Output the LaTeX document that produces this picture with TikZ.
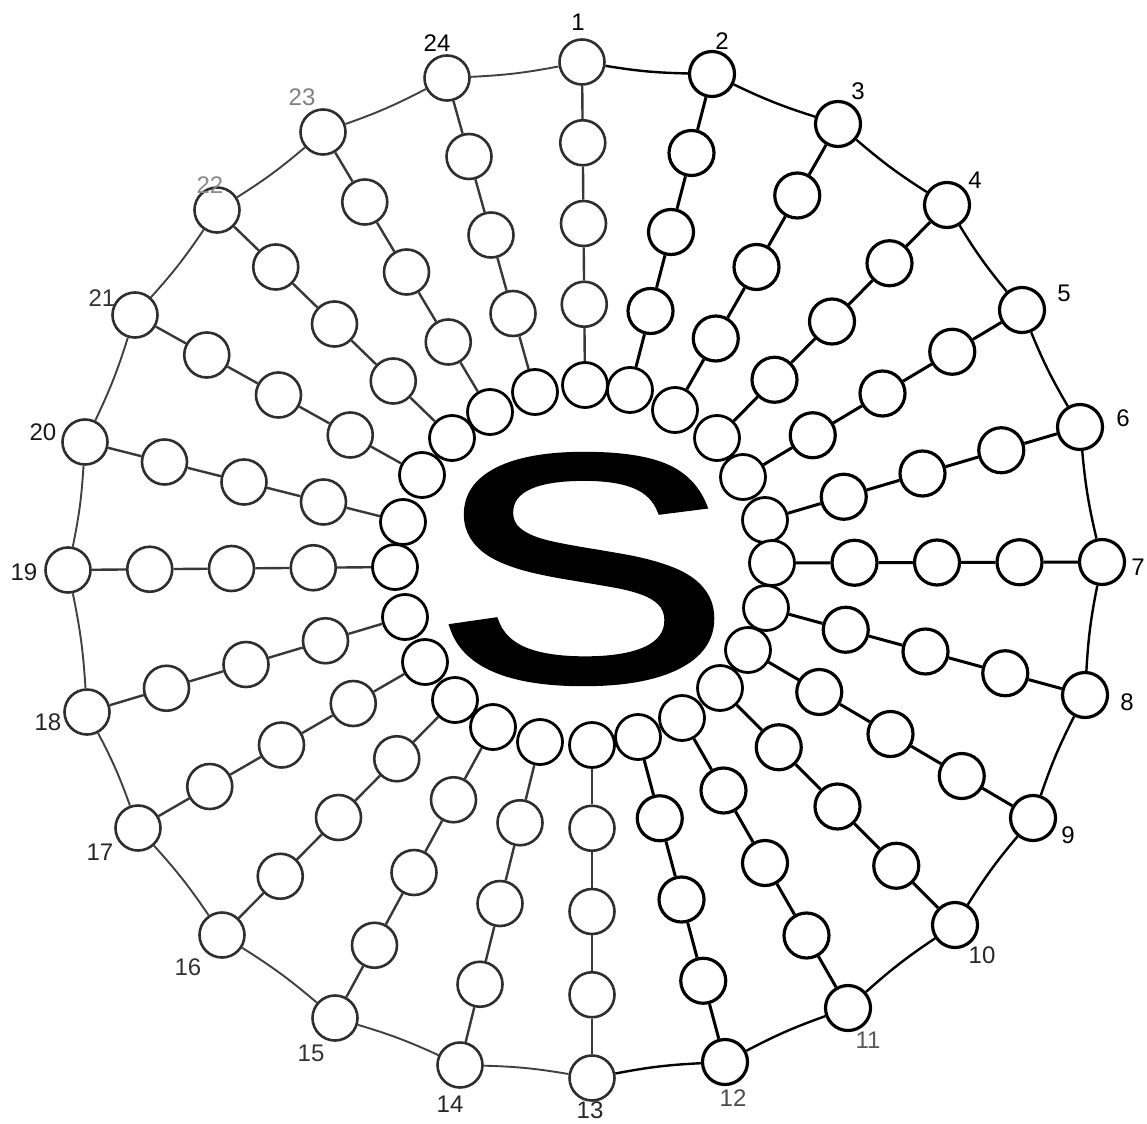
\documentclass[tikz,border=0pt]{standalone}
\usepackage{fontspec}
\setmainfont{Liberation Sans}
\newfontfamily\labfont{Liberation Sans}
\newfontfamily\Sfont[FakeBold=2]{Liberation Sans}
\usetikzlibrary{calc}
\begin{document}
\begin{tikzpicture}[x=1pt,y=-1pt,
  ballD/.style={circle,draw=black,fill=white,line width=3.2pt,minimum size=45pt,inner sep=0pt},
  ballL/.style={circle,draw=black!82,fill=white,line width=2.6pt,minimum size=45pt,inner sep=0pt},
  ballI/.style={circle,draw=black,fill=white,line width=2.8pt,minimum size=45pt,inner sep=0pt},
  linkD/.style={draw=black,line width=3pt},
  linkL/.style={draw=black!78,line width=2.4pt},
  ringD/.style={draw=black,line width=2.4pt},
  ringL/.style={draw=black!75,line width=1.9pt},
  lab/.style={font=\labfont\fontsize{24}{24}\selectfont,inner sep=0pt},
  bigS/.style={inner sep=0pt,font=\Sfont\fontsize{322}{322}\selectfont}
  ]
\useasboundingbox[fill=white] (0,0) rectangle (1147,1123);

\foreach \i/\ox/\oy/\ix/\iy/\s in {
  1/582/62/585/385/L, 2/712/74/630/390/D, 3/838/124/675/410/D,
  4/947/205/717/438/D, 5/1022/310/743/477/D, 6/1080/427/765/520/D,
  7/1102/562/772/563/D, 8/1085/695/766/608/D, 9/1033/818/748/650/D,
  10/955/925/720/688/D, 11/848/1008/682/718/D, 12/725/1062/638/737/D,
  13/592/1078/592/745/L, 14/460/1065/540/742/L, 15/335/1018/493/727/L,
  16/222/935/455/700/L, 17/138/828/425/662/L, 18/87/712/405/617/L,
  19/68/570/395/567/L, 20/85/442/403/522/L, 21/135/315/422/475/L,
  22/217/210/452/438/L, 23/323/132/490/412/L, 24/447/78/535/392/L} {
  \node[ball\s] (o\i) at (\ox,\oy) {};
  \node[ball\s] (a\i) at ($(\ox,\oy)!0.25!(\ix,\iy)$) {};
  \node[ball\s] (b\i) at ($(\ox,\oy)!0.5!(\ix,\iy)$) {};
  \node[ball\s] (c\i) at ($(\ox,\oy)!0.75!(\ix,\iy)$) {};
  \node[ballI] (n\i) at (\ix,\iy) {};
  \draw[link\s] (o\i) -- (a\i) -- (b\i) -- (c\i) -- (n\i);
}

\foreach \i/\j/\s in {1/2/D, 2/3/D, 3/4/D, 4/5/D, 5/6/D, 6/7/D, 7/8/D,
  8/9/D, 9/10/D, 10/11/D, 11/12/D, 12/13/D, 13/14/L, 14/15/L, 15/16/L,
  16/17/L, 17/18/L, 18/19/L, 19/20/L, 20/21/L, 21/22/L, 22/23/L,
  23/24/L, 24/1/L} {
  \draw[ring\s] (o\i) to[bend right=4] (o\j);
}

\foreach \i/\x/\y/\c in {1/578/22/black, 2/722/41/black, 3/858/91/black,
  4/975/180/black, 5/1064/293/black, 6/1123/418/black, 7/1138/567/black,
  8/1127/702/black, 9/1068/835/black, 10/982/955/black!85, 11/868/1040/black!65,
  12/733/1098/black!70, 13/590/1110/black!85, 14/450/1104/black!85,
  15/311/1053/black!80, 16/188/967/black!80, 17/100/852/black!85,
  18/48/722/black!85, 19/24/572/black!90, 20/43/432/black!90,
  21/102/298/black!80, 22/210/185/black!45, 23/302/97/black!50,
  24/437/43/black} {
  \node[lab,text=\c] (l\i) at (\x,\y) {\i};
}

\node[bigS] (S) at (582,569) {\scalebox{1.38}[1]{S}};
\end{tikzpicture}
\end{document}
